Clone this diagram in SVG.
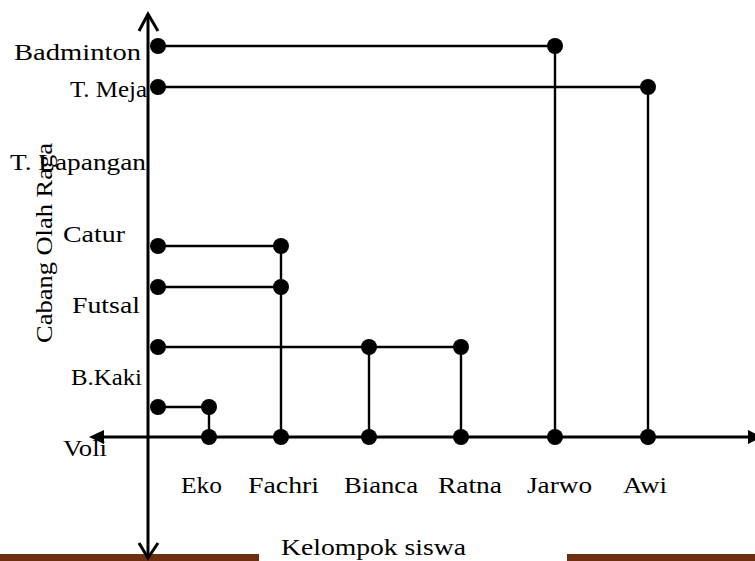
<svg xmlns="http://www.w3.org/2000/svg" width="755" height="561" viewBox="0 0 755 561">
<style>
.ax{stroke:#000;stroke-width:3;fill:none}
.ln{stroke:#000;stroke-width:2.4;fill:none}
.dot{fill:#000}
text{font-family:"Liberation Serif","Times New Roman",serif;font-size:24px;fill:#000}
.bar{fill:#6e2f10}
</style>
<rect width="755" height="561" fill="#fff"/>
<g id="bars">
<rect class="bar" x="0" y="554" width="259" height="7"/>
<rect class="bar" x="567" y="554" width="188" height="7"/>
</g>
<g id="axes">
<line class="ax" x1="148" y1="14" x2="148" y2="558"/>
<polyline class="ax" points="139,31 148,14 158,31"/>
<polyline class="ax" points="139,543 148,558 158,543"/>
<line class="ax" x1="95" y1="437" x2="755" y2="437"/>
<polygon points="89,437 104,430 104,444" fill="#000"/>
<polygon points="762,437 748,430 748,444" fill="#000"/>
</g>
<g id="connectors">
<polyline class="ln" points="158,46 555,46 555,437"/>
<polyline class="ln" points="158,87 648,87 648,437"/>
<polyline class="ln" points="158,246 281,246 281,437"/>
<line class="ln" x1="158" y1="287" x2="281" y2="287"/>
<polyline class="ln" points="158,347 461,347 461,437"/>
<line class="ln" x1="369" y1="347" x2="369" y2="437"/>
<polyline class="ln" points="158,407 209,407 209,437"/>
</g>
<g id="dots">
<circle class="dot" cx="158" cy="46" r="8"/>
<circle class="dot" cx="555" cy="46" r="8"/>
<circle class="dot" cx="158" cy="87" r="8"/>
<circle class="dot" cx="648" cy="87" r="8"/>
<circle class="dot" cx="158" cy="246" r="8"/>
<circle class="dot" cx="281" cy="246" r="8"/>
<circle class="dot" cx="158" cy="287" r="8"/>
<circle class="dot" cx="281" cy="287" r="8"/>
<circle class="dot" cx="158" cy="347" r="8"/>
<circle class="dot" cx="369" cy="347" r="8"/>
<circle class="dot" cx="461" cy="347" r="8"/>
<circle class="dot" cx="158" cy="407" r="8"/>
<circle class="dot" cx="209" cy="407" r="8"/>
<circle class="dot" cx="209" cy="437" r="8"/>
<circle class="dot" cx="281" cy="437" r="8"/>
<circle class="dot" cx="369" cy="437" r="8"/>
<circle class="dot" cx="461" cy="437" r="8"/>
<circle class="dot" cx="555" cy="437" r="8"/>
<circle class="dot" cx="648" cy="437" r="8"/>
</g>
<g id="y-labels">
<text x="14" y="60" textLength="127" lengthAdjust="spacingAndGlyphs">Badminton</text>
<text x="70" y="97" textLength="77" lengthAdjust="spacingAndGlyphs">T. Meja</text>
<text x="10" y="170" textLength="136" lengthAdjust="spacingAndGlyphs">T. Lapangan</text>
<text x="63" y="242" textLength="62" lengthAdjust="spacingAndGlyphs">Catur</text>
<text x="72" y="313" textLength="68" lengthAdjust="spacingAndGlyphs">Futsal</text>
<text x="71" y="385" textLength="71" lengthAdjust="spacingAndGlyphs">B.Kaki</text>
<text x="63" y="456" textLength="44" lengthAdjust="spacingAndGlyphs">Voli</text>
</g>
<g id="x-labels">
<text x="181" y="493" textLength="41" lengthAdjust="spacingAndGlyphs">Eko</text>
<text x="248" y="493" textLength="71" lengthAdjust="spacingAndGlyphs">Fachri</text>
<text x="344" y="493" textLength="74" lengthAdjust="spacingAndGlyphs">Bianca</text>
<text x="438" y="493" textLength="64" lengthAdjust="spacingAndGlyphs">Ratna</text>
<text x="527" y="493" textLength="65" lengthAdjust="spacingAndGlyphs">Jarwo</text>
<text x="623" y="493" textLength="44" lengthAdjust="spacingAndGlyphs">Awi</text>
</g>
<g id="titles">
<text x="281" y="555" textLength="185" lengthAdjust="spacingAndGlyphs">Kelompok siswa</text>
<text transform="translate(52,343) rotate(-90)" textLength="200" lengthAdjust="spacingAndGlyphs">Cabang Olah Raga</text>
</g>
</svg>
